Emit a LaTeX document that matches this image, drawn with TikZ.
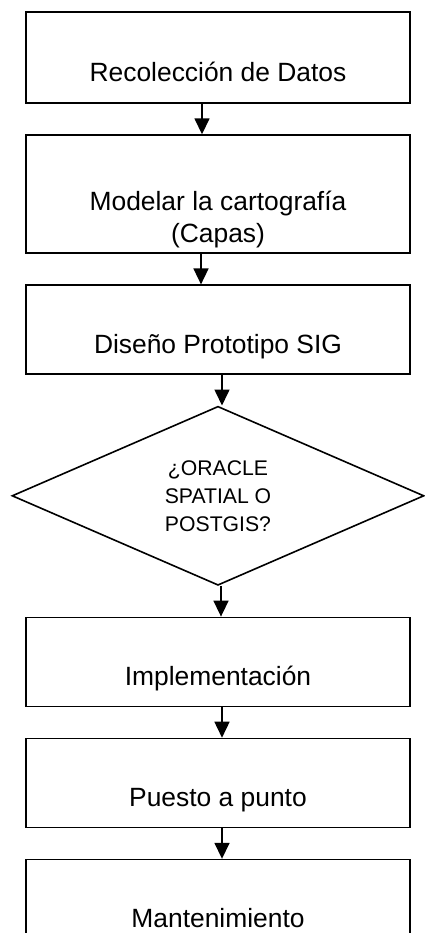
\documentclass[tikz,border=0pt]{standalone}
\usepackage{fontspec}
\setmainfont{Liberation Sans}
\usetikzlibrary{arrows.meta,positioning,shapes.geometric}
\tikzset{
  flowbox/.style={
    draw,
    rectangle,
    minimum width=384pt,
    inner sep=0pt,
    align=center,
    font=\fontsize{26.4}{32}\selectfont,
    line width=1.6pt,
    text depth=21pt,
    text height=68pt
  },
  flowdecision/.style={
    draw,
    diamond,
    minimum width=412pt,
    minimum height=179pt,
    inner sep=0pt,
    shape aspect=2.3,
    align=center,
    font=\fontsize{21.2}{28}\selectfont,
    line width=1.6pt
  },
  flowarrow/.style={-{Triangle[length=16pt,width=15pt]}, line width=1.6pt}
}

\begin{document}
\begin{tikzpicture}[
  x=1pt, y=1pt,
  node distance=30.5pt
]
\useasboundingbox (0,0) rectangle (424,-933);
\node[flowbox, text height=70pt] (datos) at (218,-57.5) {Recolección de Datos};
\node[flowbox, below=of datos, text height=107pt, text depth=11pt] (modelo) {Modelar la cartografía\\(Capas)};
\node[flowbox, below=of modelo] (diseno) {Diseño Prototipo SIG};
\node[flowdecision, below=of diseno] (motor) {¿ORACLE\\SPATIAL O\\POSTGIS?};
\node[flowbox, below=of motor] (implementa) {Implementación};
\node[flowbox, below=of implementa] (puesta) {Puesto a punto};
\node[flowbox, below=of puesta] (mantiene) {Mantenimiento};
\draw[flowarrow] ([xshift=-16pt]datos.south) -- ([xshift=-16pt]modelo.north);
\draw[flowarrow] ([xshift=-17pt]modelo.south) -- ([xshift=-17pt]diseno.north);
\draw[flowarrow] ([xshift=4pt]diseno.south) -- ([xshift=4pt]motor.north);
\draw[flowarrow] ([xshift=3pt]motor.south) -- ([xshift=3pt]implementa.north);
\draw[flowarrow] ([xshift=4pt]implementa.south) -- ([xshift=4pt]puesta.north);
\draw[flowarrow] ([xshift=4pt]puesta.south) -- ([xshift=4pt]mantiene.north);
\end{tikzpicture}
\end{document}
